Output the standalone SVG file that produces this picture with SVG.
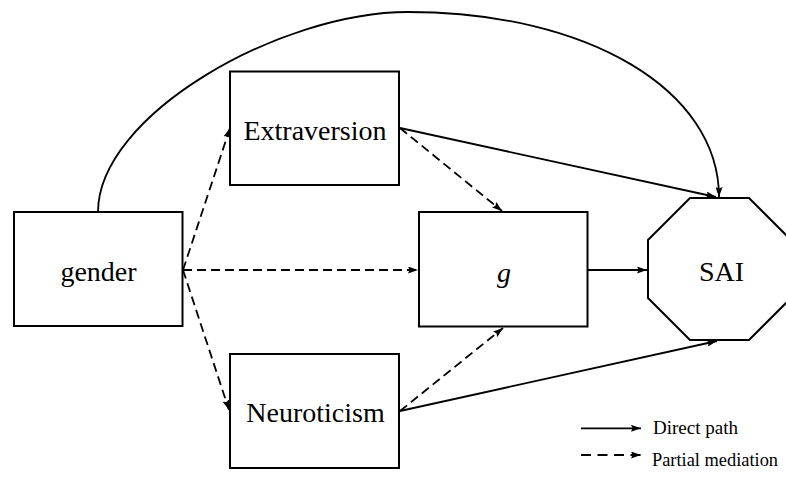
<svg xmlns="http://www.w3.org/2000/svg" width="786" height="478" viewBox="0 0 786 478">
<style>
.box{fill:#fff;stroke:#000;stroke-width:2}
text{font-family:'Liberation Serif','Times New Roman',Tinos,'DejaVu Serif',serif;fill:#000}
.lbl{font-size:28px;text-anchor:middle}
.leg{font-size:19px}
.ln{fill:none;stroke:#000;stroke-width:1.8}
.dash{stroke-dasharray:9 5}
</style>
<defs>
<marker id="ah" viewBox="0 0 10 7" refX="10" refY="3.5" markerWidth="10" markerHeight="7" markerUnits="userSpaceOnUse" orient="auto">
<path d="M0,0 L10,3.5 L0,7 L1.5,3.5 z" fill="#000"/>
</marker>
</defs>
<rect width="786" height="478" fill="#fff"/>
<g id="connectors">
<path class="ln" d="M98,212 C98,115 280,12 408,12 C588,12 719,90 719,197" marker-end="url(#ah)"/>
<line class="ln" x1="400" y1="128" x2="716" y2="197" marker-end="url(#ah)"/>
<line class="ln dash" x1="400" y1="128" x2="502" y2="211" marker-end="url(#ah)"/>
<line class="ln dash" x1="183" y1="270" x2="230" y2="128" marker-end="url(#ah)"/>
<line class="ln dash" x1="183" y1="270" x2="229" y2="410" marker-end="url(#ah)"/>
<line class="ln dash" x1="183" y1="270" x2="418" y2="270" marker-end="url(#ah)"/>
<line class="ln" x1="588" y1="270" x2="647" y2="270" marker-end="url(#ah)"/>
<line class="ln dash" x1="400" y1="411" x2="503" y2="328" marker-end="url(#ah)"/>
<line class="ln" x1="400" y1="411" x2="717" y2="341" marker-end="url(#ah)"/>
</g>
<g id="gender">
<rect class="box" x="14" y="212" width="168.5" height="114"/>
<text class="lbl" x="98.5" y="281">gender</text>
</g>
<g id="extraversion">
<rect class="box" x="230" y="71.5" width="169" height="113.5"/>
<text class="lbl" x="315" y="140">Extraversion</text>
</g>
<g id="neuroticism">
<rect class="box" x="230" y="354" width="169" height="114"/>
<text class="lbl" x="315.5" y="422">Neuroticism</text>
</g>
<g id="g">
<rect class="box" x="419" y="212" width="168.5" height="114.5"/>
<text class="lbl" x="504" y="282" font-style="italic">g</text>
</g>
<g id="sai">
<polygon class="box" points="690,198 749,198 791,240 791,298 749,340 690,340 648,298 648,240"/>
<text class="lbl" x="721.5" y="281">SAI</text>
</g>
<g id="legend">
<line class="ln" x1="581" y1="428.3" x2="641" y2="428.3" marker-end="url(#ah)"/>
<text class="leg" x="653" y="433.5" textLength="85" lengthAdjust="spacingAndGlyphs">Direct path</text>
<line class="ln" x1="581" y1="455" x2="641" y2="455" stroke-dasharray="10 6.5" marker-end="url(#ah)"/>
<text class="leg" x="652" y="465.7" textLength="126" lengthAdjust="spacingAndGlyphs">Partial mediation</text>
</g>
</svg>
